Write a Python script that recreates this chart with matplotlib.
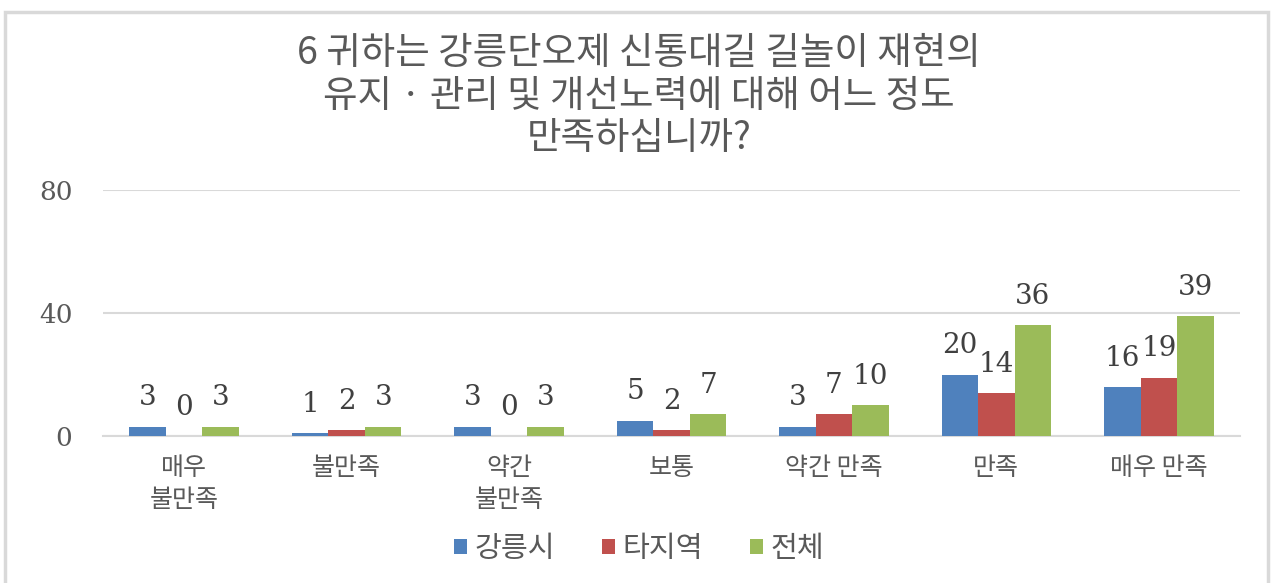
import matplotlib
matplotlib.use("Agg")
import matplotlib.pyplot as plt
import numpy as np
from matplotlib.patches import Rectangle

plt.rcParams['font.family'] = ['Noto Sans CJK KR', 'DejaVu Sans']

title = "6 귀하는 강릉단오제 신통대길 길놀이 재현의\n유지 · 관리 및 개선노력에 대해 어느 정도\n만족하십니까?"
categories = ["매우\n불만족", "불만족", "약간\n불만족", "보통", "약간 만족", "만족", "매우 만족"]
series_names = ["강릉시", "타지역", "전체"]
gangneung = [3, 1, 3, 5, 3, 20, 16]
other = [0, 2, 0, 2, 7, 14, 19]
total = [3, 3, 3, 7, 10, 36, 39]
yticks = [0, 40, 80]

colors = ["#4f81bd", "#c0504d", "#9bbb59"]
text_color = "#595959"

fig = plt.figure(figsize=(12.78, 5.83), dpi=100)
fig.patch.set_facecolor("white")
fig.patches.append(Rectangle((5/1278, -0.02), (1268-5)/1278, 1.02 - 12/583,
                             transform=fig.transFigure, fill=False,
                             edgecolor="#d9d9d9", linewidth=2.5, zorder=0))

ax = fig.add_axes([103/1278, 1 - 436/583, (1240-103)/1278, (436-190)/583])
x = np.arange(len(categories))
w = 0.225
data = [gangneung, other, total]
for i, (vals, c, name) in enumerate(zip(data, colors, series_names)):
    bars = ax.bar(x + (i - 1) * w, vals, width=w, color=c, label=name, zorder=3)
    ax.bar_label(bars, labels=[str(v) for v in vals], padding=11,
                 fontsize=20, color="#404040", family=['DejaVu Serif'])

ax.set_xlim(-0.5, len(categories) - 0.5)
ax.set_ylim(0, 80)
ax.set_yticks(yticks)
ax.set_yticklabels([str(t) for t in yticks], fontsize=19, color=text_color,
                   family=['DejaVu Serif'])
ax.set_xticks(x)
ax.set_xticklabels(categories, fontsize=18, color=text_color, linespacing=1.3)
ax.tick_params(axis='both', length=0)
ax.tick_params(axis='y', pad=22)
ax.tick_params(axis='x', pad=14)
for s in ["left", "right", "top"]:
    ax.spines[s].set_visible(False)
ax.spines["bottom"].set_color("#d9d9d9")
ax.spines["bottom"].set_linewidth(1.5)
ax.yaxis.grid(True, color="#d9d9d9", linewidth=1.5, zorder=0)
ax.set_axisbelow(True)

fig.text(0.5, 1 - 96/583, title, ha="center", va="center", fontsize=27,
         color=text_color, linespacing=1.12, fontweight="light")

leg = fig.legend(loc="center", bbox_to_anchor=(0.5, 1 - 549/583), ncol=3,
                 frameon=False, fontsize=21, handlelength=0.45, handleheight=0.45,
                 handletextpad=0.25, columnspacing=1.6)
for t in leg.get_texts():
    t.set_color(text_color)

fig.savefig("out.png", dpi=100)
